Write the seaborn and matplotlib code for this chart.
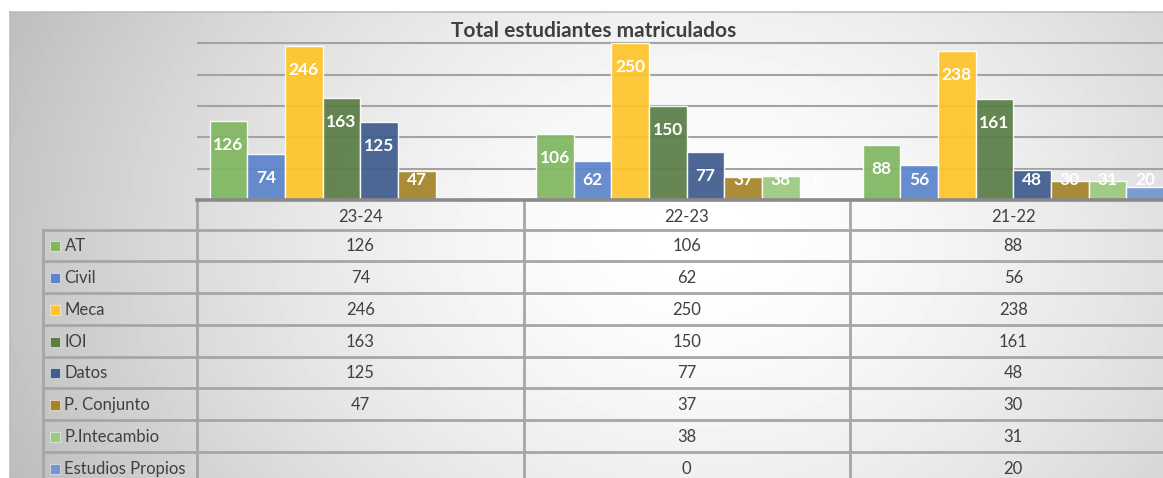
import numpy as np
import pandas as pd
import matplotlib
matplotlib.use("Agg")
import matplotlib.pyplot as plt
from matplotlib.patches import Rectangle
import seaborn as sns

# ---- data -------------------------------------------------------------
cursos = ["23-24", "22-23", "21-22"]
titulaciones = ["AT", "Civil", "Meca", "IOI", "Datos", "P. Conjunto",
                "P.Intecambio", "Estudios Propios"]
at = [126, 106, 88]
civil = [74, 62, 56]
meca = [246, 250, 238]
ioi = [163, 150, 161]
datos = [125, 77, 48]
p_conjunto = [47, 37, 30]
p_intercambio = [np.nan, 38, 31]
estudios_propios = [np.nan, 0, 20]
colores = ["#80B760", "#5D85CC", "#FEC42B", "#5A7E46", "#405D8E",
           "#A4832A", "#9CCA7E", "#7396D2"]

series = [at, civil, meca, ioi, datos, p_conjunto, p_intercambio, estudios_propios]
df = pd.DataFrame(
    [(c, t, v) for t, vals in zip(titulaciones, series) for c, v in zip(cursos, vals)],
    columns=["curso", "titulacion", "valor"],
)
paleta = dict(zip(titulaciones, colores))

# ---- figure ------------------------------------------------------------
plt.rcParams["font.family"] = ["Lato", "DejaVu Sans"]
W, H = 1163, 478
fig = plt.figure(figsize=(W / 100, H / 100), dpi=100)

# background layer (pixel coordinates, origin top-left)
bg = fig.add_axes([0, 0, 1, 1], zorder=0)
bg.set_xlim(0, W)
bg.set_ylim(H, 0)
bg.axis("off")

yy, xx = np.mgrid[0:H, 0:W]
d = np.sqrt(((xx - 700) / 680.0) ** 2 + ((yy - 240) / 520.0) ** 2)
shade = np.clip(1.0 - 0.22 * d ** 1.6, 0, 1)
shade[(xx < 10) | (yy < 12)] = 1.0
bg.imshow(shade, extent=(0, W, H, 0), cmap="gray", vmin=0, vmax=1,
          aspect="auto", interpolation="bilinear", zorder=0)
bg.plot([10, W], [12, 12], color="#bdbdbd", lw=1.2, zorder=1)
bg.plot([10, 10], [12, H], color="#bdbdbd", lw=1.2, zorder=1)

# ---- bar chart -----------------------------------------------------------
x0, col_w = 197.0, 326.5
ax = fig.add_axes([x0 / W, (H - 200) / H, 3 * col_w / W, 188 / H], zorder=2)
ax.set_facecolor("none")
sns.barplot(data=df, x="curso", y="valor", hue="titulacion", order=cursos,
            hue_order=titulaciones, palette=paleta, saturation=1, width=0.923,
            edgecolor=(1, 1, 1, 0.55), linewidth=1.0, alpha=0.93,
            legend=False, ax=ax)
ax.set_xlim(-0.5, 2.5)
ax.set_ylim(0, 300)
ax.set_yticks([50, 100, 150, 200, 250])
ax.yaxis.grid(True, color="#a3a3a3", lw=1.5)
ax.xaxis.grid(False)
ax.set_axisbelow(True)
ax.tick_params(length=0, labelleft=False, labelbottom=False)
ax.set_xlabel("")
ax.set_ylabel("")
for s in ("top", "left", "right"):
    ax.spines[s].set_visible(False)
ax.spines["bottom"].set_color("#8a8a8a")
ax.spines["bottom"].set_linewidth(2.6)

for cont in ax.containers:
    for bar in cont:
        h = bar.get_height()
        if np.isnan(h):
            continue
        ax.text(bar.get_x() + bar.get_width() / 2, max(h - 38.5, 31.5),
                f"{int(h)}", ha="center", va="center", color="white",
                fontsize=12.5, fontweight="bold", zorder=5)

fig.text(594 / W, 1 - 31 / H, "Total estudiantes matriculados", ha="center",
         va="center", fontsize=15, fontweight="bold", color="#404040")

# ---- data table ------------------------------------------------------------
line_c, line_w = "#a6a6a6", 2.0
txt_c = "#404040"
fs = 12
col_edges = [x0 + i * col_w for i in range(4)]
row_edges = [229.5 + k * 31.75 for k in range(9)]
leg_x = 43.3

for xe in col_edges:
    bg.plot([xe, xe], [200, row_edges[-1]], color=line_c, lw=line_w, zorder=2)
bg.plot([leg_x, leg_x], [row_edges[0], row_edges[-1]], color=line_c, lw=line_w, zorder=2)
for ye in row_edges:
    bg.plot([leg_x, col_edges[-1]], [ye, ye], color=line_c, lw=line_w, zorder=2)

for i, c in enumerate(cursos):
    bg.text(col_edges[i] + col_w / 2, 216.5, c, ha="center", va="center",
            fontsize=fs, color=txt_c, zorder=3)

for r, (t, vals, col) in enumerate(zip(titulaciones, series, colores)):
    yc = (row_edges[r] + row_edges[r + 1]) / 2 + 1
    bg.add_patch(Rectangle((50, yc - 5), 10, 10, facecolor=col,
                           edgecolor=(1, 1, 1, 0.6), lw=0.6, zorder=3))
    bg.text(64.5, yc, t, ha="left", va="center", fontsize=fs, color=txt_c, zorder=3)
    for i, v in enumerate(vals):
        if np.isnan(v):
            continue
        bg.text(col_edges[i] + col_w / 2, yc, f"{int(v)}", ha="center",
                va="center", fontsize=fs, color=txt_c, zorder=3)

fig.savefig("out.png", dpi=100)
